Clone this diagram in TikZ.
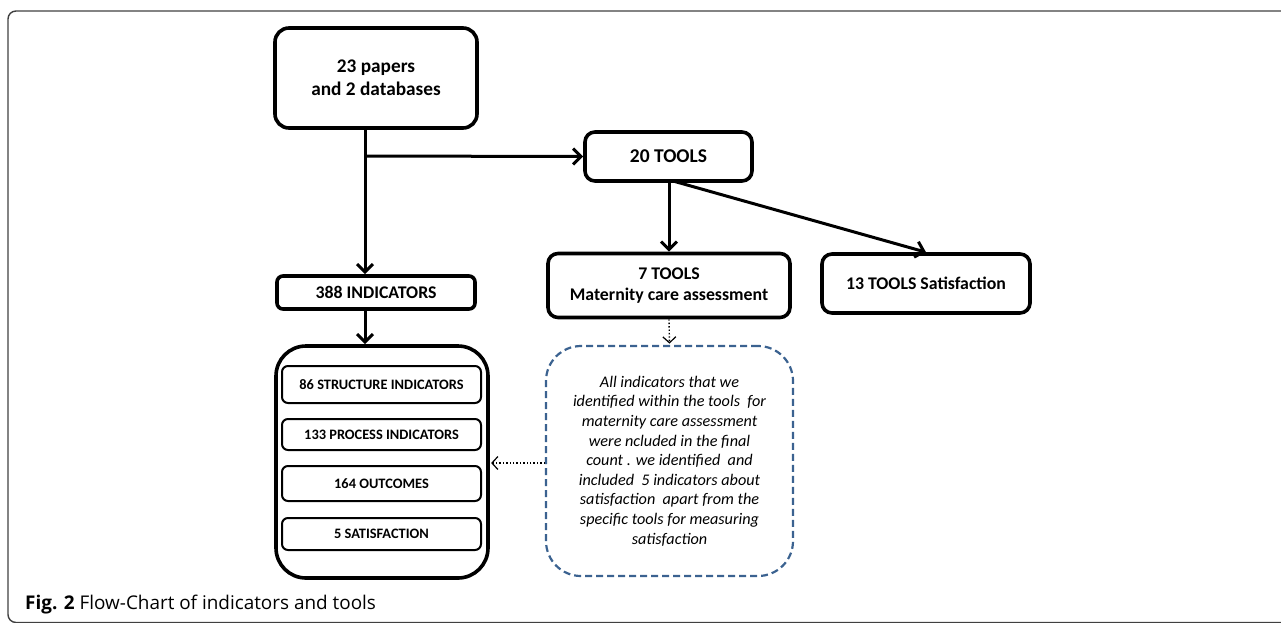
\documentclass[tikz,border=0pt]{standalone}
\usepackage{fontspec}
\setmainfont{Carlito}
\newfontfamily\capfont{Open Sans}
\usetikzlibrary{arrows.meta}
\definecolor{dashblue}{HTML}{3B6290}
\tikzset{
  x=1pt, y=-1pt,
  bigbox/.style={draw, line width=3.6pt, rounded corners=#1, align=center, font=\bfseries, inner sep=0pt},
  smallbox/.style={draw, line width=2pt, rounded corners=6pt, minimum width=199pt, inner sep=0pt, font=\bfseries\fontsize{14.4}{16}\selectfont},
  arr/.style={line width=3pt, -{Straight Barb[length=8pt,width=16pt,line width=3pt]}},
  dotarr/.style={line width=1.4pt, dotted, -{Straight Barb[length=6pt,width=13pt,line width=1.2pt,sep]}},
}
\begin{document}
\begin{tikzpicture}
\useasboundingbox (0,0) rectangle (1281,622);
% frame
\draw[line width=1.4pt, draw=black!75, rounded corners=8pt] (1300,11) -- (8,11) -- (8,622.5) -- (1300,622.5);
% nodes
\node[bigbox=14pt, minimum width=202pt, minimum height=100pt, font=\bfseries\fontsize{19.3}{23}\selectfont] (papers) at (376,78) {23 papers\\and 2 databases};
\node[bigbox=10pt, minimum width=167pt, minimum height=49pt, font=\bfseries\fontsize{19.5}{23}\selectfont] (tools) at (668.5,156.5) {20 TOOLS};
\node[bigbox=10pt, minimum width=242pt, minimum height=64pt, font=\bfseries\fontsize{17.8}{21}\selectfont] (seven) at (669,285.5) {7 TOOLS\\Maternity care assessment};
\node[bigbox=10pt, minimum width=208pt, minimum height=59pt, font=\bfseries\fontsize{17.8}{21}\selectfont] (thirteen) at (926,283.5) {13 TOOLS Satisfaction};
\node[bigbox=6pt, minimum width=198pt, minimum height=33pt, font=\bfseries\fontsize{17.8}{20}\selectfont] (ind) at (376,292.5) {388 INDICATORS};
\node[bigbox=30pt, minimum width=212pt, minimum height=232pt] (cont) at (382,462) {};
\node[smallbox, minimum height=37pt] (s1) at (381.5,384.5) {86 STRUCTURE INDICATORS};
\node[smallbox, minimum height=31pt] (s2) at (381.5,434.5) {133 PROCESS INDICATORS};
\node[smallbox, minimum height=35pt] (s3) at (381.5,483.5) {164 OUTCOMES};
\node[smallbox, minimum height=32pt] (s4) at (381.5,534) {5 SATISFACTION};
\node[draw=dashblue, line width=2.2pt, dash pattern=on 7pt off 4pt, rounded corners=35pt, minimum width=247pt, minimum height=230pt, align=center, font=\itshape\fontsize{16.2}{19.6}\selectfont, inner sep=0pt] (note) at (669.5,461) {All indicators that we\\identified within the tools~ for\\maternity care assessment\\were ncluded in the final\\count . we identified~ and\\included~ 5 indicators about\\satisfaction~ apart from the\\specific tools for measuring\\satisfaction};
% connectors
\coordinate (j) at (365,156);
\draw[line width=3pt] (papers.south -| j) -- (j);
\draw[arr] (j) -- (ind.north -| j);
\draw[arr] (j) -- (tools.west);
\draw[arr] (ind.south -| j) -- (cont.north -| j);
\draw[arr] (tools.south -| seven.north) -- (seven.north);
\draw[arr] (673,181) -- (thirteen.north);
\draw[dotarr] (seven.south) -- (note.north);
\draw[dotarr] (note.west |- 0,463) -- (cont.east |- 0,463);
% caption
\node[anchor=base west, inner sep=0pt, font=\capfont\fontsize{18.9}{22}\selectfont] (cap) at (25,609) {\textbf{Fig. 2} Flow-Chart of indicators and tools};
\end{tikzpicture}
\end{document}
